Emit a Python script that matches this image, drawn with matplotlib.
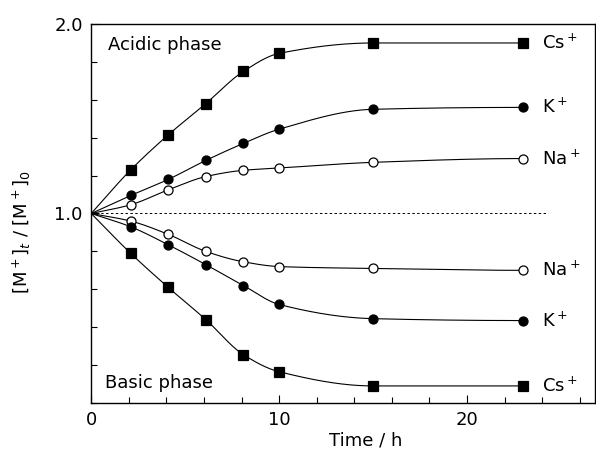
import matplotlib
matplotlib.use("Agg")
import matplotlib.pyplot as plt
import numpy as np

# sampling times (h)
time_h = [0, 2.1, 4.1, 6.1, 8.1, 10, 15, 23]

# acidic phase
acid_cs = [1.0, 1.23, 1.415, 1.58, 1.75, 1.845, 1.90, 1.90]
acid_k = [1.0, 1.095, 1.18, 1.28, 1.37, 1.445, 1.55, 1.56]
acid_na = [1.0, 1.046, 1.125, 1.195, 1.228, 1.24, 1.27, 1.29]

# basic phase
basic_na = [1.0, 0.96, 0.89, 0.80, 0.745, 0.72, 0.71, 0.70]
basic_k = [1.0, 0.93, 0.835, 0.73, 0.62, 0.52, 0.445, 0.435]
basic_cs = [1.0, 0.79, 0.61, 0.44, 0.255, 0.165, 0.09, 0.09]

ion_labels = ["Cs$^+$", "K$^+$", "Na$^+$"]


def pchip(x, y, xs):
    # monotone cubic curve through the points (Fritsch-Carlson)
    x = np.asarray(x, float)
    y = np.asarray(y, float)
    h = np.diff(x)
    d = np.diff(y) / h
    m = np.zeros_like(y)
    for k in range(1, len(x) - 1):
        if d[k - 1] * d[k] > 0:
            w1 = 2 * h[k] + h[k - 1]
            w2 = h[k] + 2 * h[k - 1]
            m[k] = (w1 + w2) / (w1 / d[k - 1] + w2 / d[k])
    m[0] = d[0]
    m[-1] = 0.0
    idx = np.clip(np.searchsorted(x, xs) - 1, 0, len(x) - 2)
    t = (xs - x[idx]) / h[idx]
    h00 = 2 * t**3 - 3 * t**2 + 1
    h10 = t**3 - 2 * t**2 + t
    h01 = -2 * t**3 + 3 * t**2
    h11 = t**3 - t**2
    return (h00 * y[idx] + h10 * h[idx] * m[idx]
            + h01 * y[idx + 1] + h11 * h[idx] * m[idx + 1])


fig = plt.figure(figsize=(5.96, 4.49), dpi=100)
ax = fig.add_axes([0.153, 0.1025, 0.845, 0.844])

xs = np.linspace(0, time_h[-1], 400)
series = [
    (acid_cs, "s", "black", 7),
    (acid_k, "o", "black", 6.5),
    (acid_na, "o", "white", 6.5),
    (basic_na, "o", "white", 6.5),
    (basic_k, "o", "black", 6.5),
    (basic_cs, "s", "black", 7),
]
for vals, mk, fc, ms in series:
    ax.plot(xs, pchip(time_h, vals, xs), color="black", lw=0.8, zorder=2)
    ax.plot(time_h[1:], vals[1:], linestyle="none", marker=mk, ms=ms,
            mfc=fc, mec="black", mew=0.9, zorder=3)

ax.plot([0, 24.3], [1.0, 1.0], color="black", lw=0.7, ls=(0, (2.5, 2.5)), zorder=1)

# ion labels at the right end of each curve
for vals, lab in zip([acid_cs, acid_k, acid_na], ion_labels):
    ax.text(24.0, vals[-1], lab, fontsize=13, va="center", ha="left")
for vals, lab in zip([basic_na, basic_k, basic_cs], ion_labels[::-1]):
    ax.text(24.0, vals[-1], lab, fontsize=13, va="center", ha="left")

ax.text(0.9, 1.89, "Acidic phase", fontsize=13, va="center")
ax.text(0.75, 0.105, "Basic phase", fontsize=13, va="center")

ax.set_xlim(0, 26.8)
ax.set_ylim(0, 2.0)
ax.set_xticks([0, 10, 20])
ax.set_xticks(np.arange(0, 27, 2), minor=True)
ax.set_yticks([1.0, 2.0])
ax.set_yticklabels(["1.0", "2.0"])
ax.set_yticks(np.arange(0, 2.01, 0.2), minor=True)
ax.tick_params(direction="in", which="major", length=6, width=0.8, labelsize=13, pad=6)
ax.tick_params(direction="in", which="minor", length=4, width=0.8)
for sp in ax.spines.values():
    sp.set_linewidth(1.0)

ax.set_xlabel("Time / h", fontsize=13)
ax.xaxis.set_label_coords(0.545, -0.075)
ax.set_ylabel("[M$^+$]$_t$ / [M$^+$]$_0$", fontsize=13)
ax.yaxis.set_label_coords(-0.115, 0.45)

fig.savefig("out.png", dpi=100)
